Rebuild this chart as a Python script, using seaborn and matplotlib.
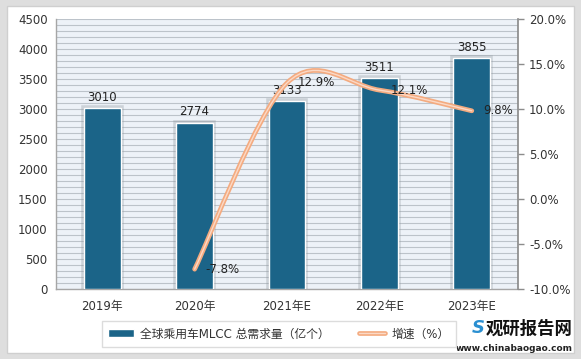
import numpy as np
import pandas as pd
import seaborn as sns
import matplotlib
matplotlib.use("Agg")
import matplotlib.pyplot as plt
import matplotlib.patheffects as pe
from matplotlib.path import Path
from matplotlib.patches import PathPatch, FancyBboxPatch
from matplotlib.lines import Line2D
from matplotlib.patches import Patch
from matplotlib.ticker import MultipleLocator, FuncFormatter

# data
years = ["2019年", "2020年", "2021年E", "2022年E", "2023年E"]
demand = [3010, 2774, 3133, 3511, 3855]       # 亿个
growth_years = ["2020年", "2021年E", "2022年E", "2023年E"]
growth = [-7.8, 12.9, 12.1, 9.8]               # %

bar_color = "#1b6488"
line_color = "#f4ab80"
line_light = "#fbd9c6"

sns.set_theme(style="white")
plt.rcParams["font.family"] = ["DejaVu Sans", "Noto Sans CJK SC"]
plt.rcParams["axes.unicode_minus"] = False

fig = plt.figure(figsize=(5.81, 3.59), dpi=100)
fig.patch.set_facecolor("#dedede")
fig.patches.append(FancyBboxPatch((0.012, 0.018), 0.976, 0.965, boxstyle="square,pad=0",
                                  transform=fig.transFigure, facecolor="white",
                                  edgecolor="#cfcfcf", linewidth=1, zorder=-10))

ax = fig.add_axes([0.0964, 0.195, 0.7952, 0.752])
ax.set_facecolor("#edf2f8")

df = pd.DataFrame({"year": years, "demand": demand})
sns.barplot(data=df, x="year", y="demand", color=bar_color, width=0.4,
            saturation=1, edgecolor="white", linewidth=1, ax=ax, zorder=3)
for bar in ax.patches:
    bar.set_path_effects([pe.Stroke(linewidth=4, foreground="#8f979e", alpha=0.35), pe.Normal()])
ax.bar_label(ax.containers[0], padding=3, fontsize=8.5, color="#222222")

ax.set_ylim(0, 4500)
ax.yaxis.set_major_locator(MultipleLocator(500))
ax.yaxis.set_minor_locator(MultipleLocator(100))
ax.grid(which="both", axis="y", color="#bcc3ca", linewidth=0.8, zorder=0)
ax.set_axisbelow(True)
ax.set_xlabel("")
ax.set_ylabel("")
ax.tick_params(axis="both", which="both", labelsize=8.5, colors="#333333", length=0, pad=6)
ax.tick_params(axis="x", pad=8)
for s in ["top", "right"]:
    ax.spines[s].set_visible(False)
for s in ["left", "bottom"]:
    ax.spines[s].set_color("#a6a6a6")
    ax.spines[s].set_linewidth(1)

# growth line on right axis, smoothed like the original
ax2 = ax.twinx()
ax2.set_ylim(-10, 20)
ax2.yaxis.set_major_locator(MultipleLocator(5))
ax2.yaxis.set_major_formatter(FuncFormatter(lambda v, p: f"{v:.1f}%"))
ax2.tick_params(axis="y", labelsize=8.5, colors="#333333", length=4, width=1, pad=4)
ax2.tick_params(axis="y", color="#8c8c8c")
for s in ["top", "left", "bottom"]:
    ax2.spines[s].set_visible(False)
ax2.spines["right"].set_color("#8c8c8c")
ax2.grid(False)

gx = np.array([years.index(y) for y in growth_years], dtype=float)
gy = np.array(growth, dtype=float)
px = np.concatenate([[gx[0]], gx, [gx[-1]]])
py = np.concatenate([[gy[0]], gy, [gy[-1]]])
verts = [(gx[0], gy[0])]
codes = [Path.MOVETO]
for i in range(1, len(px) - 2):
    c1 = (px[i] + (px[i + 1] - px[i - 1]) / 6, py[i] + (py[i + 1] - py[i - 1]) / 6)
    c2 = (px[i + 1] - (px[i + 2] - px[i]) / 6, py[i + 1] - (py[i + 2] - py[i]) / 6)
    verts += [c1, c2, (px[i + 1], py[i + 1])]
    codes += [Path.CURVE4] * 3
curve = PathPatch(Path(verts, codes), facecolor="none", edgecolor=line_color,
                  linewidth=3.2, capstyle="round", zorder=5)
curve.set_path_effects([pe.Stroke(linewidth=3.4, foreground=line_color),
                        pe.Stroke(linewidth=1.0, foreground=line_light)])
ax2.add_patch(curve)
for x, y in zip(gx, gy):
    ax2.annotate(f"{y:.1f}%", (x, y), xytext=(8, 0), textcoords="offset points",
                 ha="left", va="center", fontsize=8.5, color="#222222", zorder=6)

# legend
bar_handle = Patch(facecolor=bar_color, edgecolor="white")
line_handle = Line2D([0], [0], color=line_color, linewidth=3.5,
                     path_effects=[pe.Stroke(linewidth=3.4, foreground=line_color),
                                   pe.Stroke(linewidth=1.0, foreground=line_light)])
leg = fig.legend([bar_handle, line_handle], ["全球乘用车MLCC 总需求量（亿个）", "增速（%）"],
                 loc="center", bbox_to_anchor=(0.48, 0.07), ncol=2, frameon=True,
                 fancybox=False, edgecolor="#dcdcdc", framealpha=1, fontsize=8.5,
                 handlelength=2.2, columnspacing=2.5, borderpad=0.3, borderaxespad=0,
                 handletextpad=0.5)
leg.get_frame().set_boxstyle("square", pad=0.25)
for t in leg.get_texts():
    t.set_color("#333333")

# watermark logo
fig.text(0.985, 0.085, "观研报告网", ha="right", va="center", fontsize=12.5,
         fontweight="bold", color="#111111", family=["Noto Sans CJK SC"])
fig.text(0.985, 0.028, "www.chinabaogao.com", ha="right", va="center", fontsize=6.5,
         fontweight="bold", color="#222222")
fig.text(0.823, 0.085, "S", ha="center", va="center", fontsize=13, fontweight="bold",
         color="#2a8fd1", style="italic")

fig.savefig("out.png", dpi=100)
